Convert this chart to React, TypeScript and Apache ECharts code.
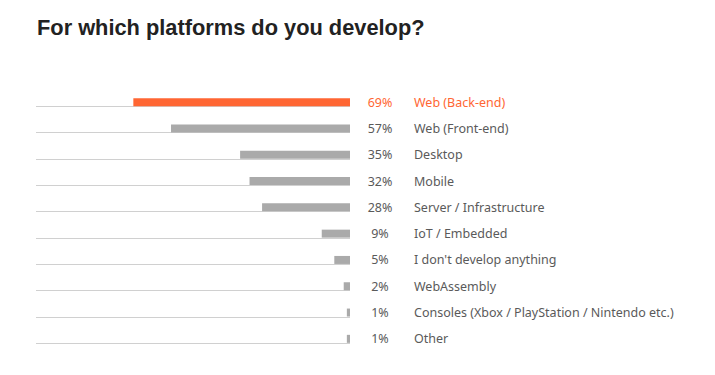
import React, { useEffect, useRef } from "react";
import * as echarts from "echarts";

const titleText = "For which platforms do you develop?";
const categories = [
  "Web (Back-end)",
  "Web (Front-end)",
  "Desktop",
  "Mobile",
  "Server / Infrastructure",
  "IoT / Embedded",
  "I don't develop anything",
  "WebAssembly",
  "Consoles (Xbox / PlayStation / Nintendo etc.)",
  "Other",
];
const values = [69, 57, 35, 32, 28, 9, 5, 2, 1, 1];
const highlightIndex = 0;

const ORANGE = "#ff6633";
const GRAY = "#aaaaaa";
const TEXT = "#5a5a5a";
const FONT = "'Noto Sans', 'Open Sans', sans-serif";

export default function App() {
  const ref = useRef<HTMLDivElement>(null);
  useEffect(() => {
    if (!ref.current) return;
    const chart = echarts.init(ref.current, undefined, { renderer: "svg" });
    chart.setOption({
      animation: false,
      backgroundColor: "#ffffff",
      title: {
        text: titleText,
        left: 32,
        top: 11,
        textStyle: {
          fontFamily: "'Liberation Sans', Arial, sans-serif",
          fontSize: 21.8,
          fontWeight: "bold",
          color: "#222222",
        },
      },
      grid: { left: 36, right: 365, top: 89, bottom: 23, containLabel: false },
      xAxis: {
        type: "value",
        min: 0,
        max: 100,
        inverse: true,
        show: false,
      },
      yAxis: {
        type: "category",
        data: categories,
        inverse: true,
        position: "right",
        axisLine: { show: false },
        axisTick: { show: false },
        splitLine: { show: false },
        axisLabel: {
          margin: 0,
          fontFamily: FONT,
          formatter: (_v: string, i: number) => {
            const o = i === highlightIndex ? "O" : "";
            return `{p${o}|${values[i]}%}{n${o}|${categories[i]}}`;
          },
          rich: {
            p: { width: 60, align: "right", color: TEXT, fontSize: 12.5, fontFamily: FONT },
            n: { padding: [0, 0, 0, 4], color: TEXT, fontSize: 12.5, fontFamily: FONT },
            pO: { width: 60, align: "right", color: ORANGE, fontSize: 12.5, fontFamily: FONT },
            nO: { padding: [0, 0, 0, 4], color: ORANGE, fontSize: 12.5, fontFamily: FONT },
          },
        },
      },
      series: [
        {
          type: "custom",
          silent: true,
          data: categories.map((_c, i) => [i]),
          renderItem: (params: any, api: any) => {
            const i = api.value(0);
            const a = api.coord([0, i]);
            const b = api.coord([100, i]);
            const y = Math.round(a[1] + 4) + 0.5;
            return {
              type: "line",
              shape: { x1: a[0], y1: y, x2: b[0], y2: y },
              style: { stroke: "#d0d0d0", lineWidth: 1 },
            };
          },
          z: 1,
        },
        {
          type: "bar",
          data: values.map((v, i) => ({
            value: v,
            itemStyle: { color: i === highlightIndex ? ORANGE : GRAY },
          })),
          barWidth: 8,
          z: 2,
        },
      ],
    });
    return () => chart.dispose();
  }, []);
  return <div ref={ref} style={{ width: 715, height: 375, marginLeft: -8, marginTop: -8 }} />;
}
